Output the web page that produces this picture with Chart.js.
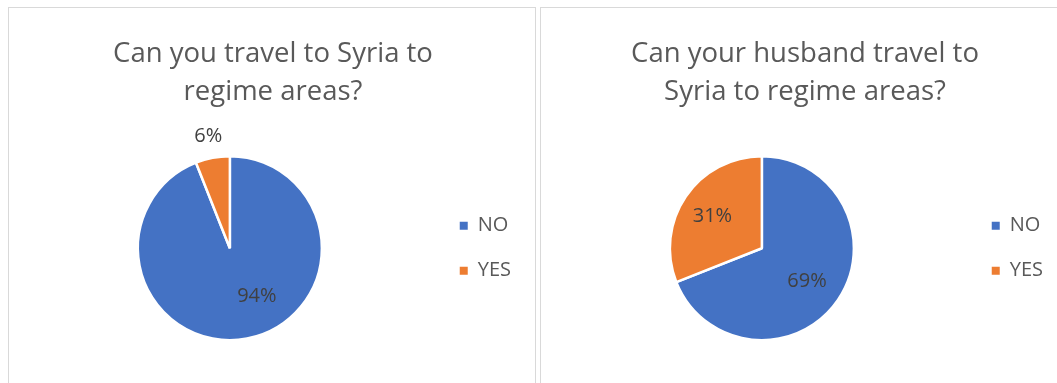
<!DOCTYPE html>
<html>
<head>
<meta charset="utf-8">
<script src="https://cdn.jsdelivr.net/npm/chart.js@4.4.1/dist/chart.umd.min.js"></script>
<style>
  html, body { margin: 0; padding: 0; background: #fff; overflow: hidden; }
  .panel {
    position: absolute;
    top: 7px;
    width: 526px;
    height: 400px;
    border: 1px solid #d9d9d9;
    background: #fff;
  }
  .panel canvas { position: absolute; left: 0; top: 0; }
</style>
</head>
<body>
<div class="panel" style="left:8px"><canvas id="self-chart" width="526" height="371"></canvas></div>
<div class="panel" style="left:540px"><canvas id="husband-chart" width="526" height="371"></canvas></div>
<script>
const categories = ['NO', 'YES'];
const selfValues = [94, 6];
const husbandValues = [69, 31];
const selfTitle = ['Can you travel to Syria to', 'regime areas?'];
const husbandTitle = ['Can your husband travel to', 'Syria to regime areas?'];

const sliceColors = ['#4472C4', '#ED7D31'];

Chart.defaults.font.family = '"Open Sans", "DejaVu Sans", sans-serif';

// percentage text on each slice, placed along the slice's middle angle
const sliceLabels = {
  id: 'sliceLabels',
  afterDatasetsDraw(chart, args, opts) {
    const meta = chart.getDatasetMeta(0);
    const data = chart.data.datasets[0].data;
    const total = data.reduce((a, b) => a + b, 0);
    const ctx = chart.ctx;
    ctx.save();
    ctx.font = '20px "Open Sans"';
    ctx.fillStyle = '#404040';
    ctx.textAlign = 'center';
    ctx.textBaseline = 'alphabetic';
    meta.data.forEach((arc, i) => {
      const place = opts.place[i];
      const p = arc.getProps(['x', 'y', 'startAngle', 'endAngle', 'outerRadius'], true);
      const a = (p.startAngle + p.endAngle) / 2 + place.shift * Math.PI / 180;
      const r = p.outerRadius * place.dist;
      const text = Math.round(data[i] / total * 100) + '%';
      ctx.fillText(text, p.x + Math.cos(a) * r, p.y + Math.sin(a) * r + 7);
    });
    ctx.restore();
  }
};

function makePie(id, title, values, place) {
  const ctx = document.getElementById(id).getContext('2d');
  return new Chart(ctx, {
    type: 'pie',
    data: {
      labels: categories,
      datasets: [{
        data: values,
        backgroundColor: sliceColors,
        borderColor: '#ffffff',
        borderWidth: 2.5,
        radius: 92
      }]
    },
    options: {
      responsive: false,
      animation: false,
      devicePixelRatio: 1,
      layout: { padding: { left: 16, right: 14, top: 0, bottom: 0 } },
      plugins: {
        title: {
          display: true,
          text: title,
          color: '#595959',
          font: { size: 27.5, weight: 'normal', lineHeight: 1.39 },
          padding: { top: 27, bottom: 6 }
        },
        legend: {
          display: true,
          position: 'right',
          fullSize: false,
          labels: {
            color: '#595959',
            font: { size: 20 },
            boxWidth: 8,
            boxHeight: 8,
            padding: 25,
            generateLabels: (chart) => {
              const items = Chart.overrides.pie.plugins.legend.labels.generateLabels(chart);
              return items.map(item => ({ ...item, lineWidth: 0, strokeStyle: 'rgba(0,0,0,0)' }));
            }
          }
        },
        tooltip: { enabled: false },
        sliceLabels: { place: place }
      }
    },
    plugins: [sliceLabels]
  });
}

makePie('self-chart', selfTitle, selfValues, [
  { dist: 0.59, shift: -19 },
  { dist: 1.25, shift: 0 }
]);
makePie('husband-chart', husbandTitle, husbandValues, [
  { dist: 0.6, shift: 1 },
  { dist: 0.65, shift: 0 }
]);
</script>
</body>
</html>
